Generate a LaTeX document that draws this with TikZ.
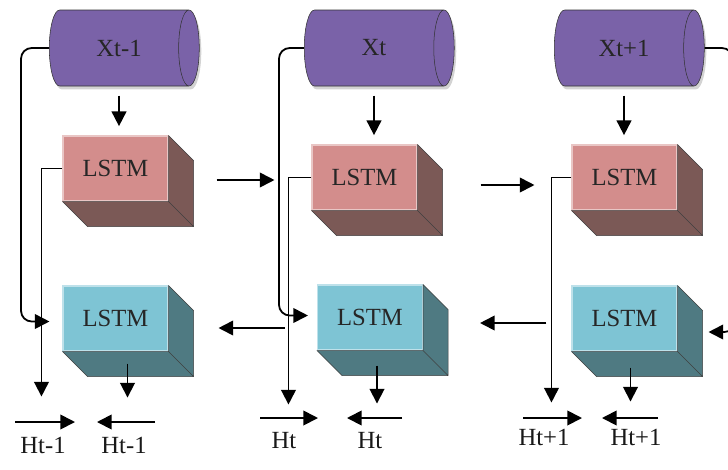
\documentclass[tikz,border=0pt]{standalone}
\usepackage{fontspec}
\setmainfont{Liberation Serif}
\usepackage{tikz}
\usetikzlibrary{arrows.meta,shapes.geometric,shadows}
\definecolor{cylfill}{HTML}{7A62A8}
\definecolor{pinkfront}{HTML}{D38D8C}
\definecolor{pinkside}{HTML}{7B5956}
\definecolor{bluefront}{HTML}{7EC4D4}
\definecolor{blueside}{HTML}{4F7A82}
\tikzset{
  arr/.style={line width=1.35pt, -{Triangle[length=11pt,width=11pt]}},
  wire/.style={line width=1.35pt},
  inp/.style={cylinder, shape border rotate=0, aspect=1.25, draw=black!80, fill=cylfill,
    minimum width=57pt, minimum height=112.5pt, inner sep=0pt,
    font=\fontsize{18.5}{20}\selectfont, text=black!85,
    drop shadow={opacity=0.35, shadow xshift=1.5pt, shadow yshift=-2.5pt}},
  cell/.style={rectangle, minimum width=78.75pt, minimum height=48.75pt, inner sep=0pt,
    font=\fontsize{18.5}{20}\selectfont, text=black!85},
  fwd/.style={cell, fill=pinkfront, draw=pinkfront!50!white, line width=0.8pt},
  bwd/.style={cell, fill=bluefront, draw=bluefront!50!white, line width=0.8pt},
  side/.style={fill=#1, draw=black!75, line width=0.4pt, line join=round},
  lab/.style={font=\fontsize{18.5}{20}\selectfont, text=black!90}
}
\begin{document}
\begin{tikzpicture}[x=0.75pt,y=-0.75pt]
\useasboundingbox (0,0) rectangle (728,469);
\clip (0,0) rectangle (728,469);

\node[inp] (x1) at (119,48) {Xt-1};
\node[inp] (x2) at (374,48) {Xt};
\node[inp] (x3) at (624,48) {Xt+1};

\node[fwd] (p1) at (115.5,168.5) {LSTM};
\node[fwd] (p2) at (364.5,177.5) {LSTM};
\node[fwd] (p3) at (624.5,177.5) {LSTM};
\node[bwd] (b1) at (115.5,318.5) {LSTM};
\node[bwd] (b2) at (370,317.5) {LSTM};
\node[bwd] (b3) at (624.5,318.5) {LSTM};

\foreach \n/\c in {p1/pinkside,p2/pinkside,p3/pinkside,b1/blueside,b2/blueside,b3/blueside}
  \filldraw[side=\c] (\n.north east) -- ++(25,25) -- ([shift={(25,25)}]\n.south east)
    -- ([shift={(25,25)}]\n.south west) -- (\n.south west) -- (\n.south east) -- cycle
    (\n.south east) -- ++(25,25);

\node[lab] (hf1) at (43,445) {Ht-1};
\node[lab] (hb1) at (124,445) {Ht-1};
\node[lab] (hf2) at (284,441) {Ht};
\node[lab] (hb2) at (370,441) {Ht};
\node[lab] (hf3) at (544,437) {Ht+1};
\node[lab] (hb3) at (636,437) {Ht+1};

\draw[arr,shorten <=7pt,shorten >=7pt] (x1.south) -- (x1.south |- p1.north);
\draw[arr,shorten <=7pt,shorten >=7pt] (x2.south) -- (x2.south |- p2.north);
\draw[arr,shorten <=7pt,shorten >=7pt] (x3.south) -- (x3.south |- p3.north);

\draw[arr,rounded corners=8pt] (x1.west) -- ++(-28,0) |- ([shift={(-13,3)}]b1.west);
\draw[arr,rounded corners=8pt] (x2.west) -- ++(-25,0) |- ([shift={(-9,-2)}]b2.west);
\draw[wire,rounded corners=8pt] (x3.east) -- ++(28,0) -- ++(0,60);

\draw[arr] (p1.west) -- ++(-21,0) -- ++(0,228);
\draw[arr] (p2.west) -- ++(-23,0) -- ++(0,227);
\draw[arr] (p3.west) -- ++(-20,0) -- ++(0,225);

\draw[arr] ([shift={(12,12)}]b1.south) -- ++(0,34);
\draw[arr] ([shift={(7,15)}]b2.south) -- ++(0,38);
\draw[arr] ([shift={(6,16)}]b3.south) -- ++(0,34);

\draw[arr] ([shift={(48,11.5)}]p1.east) -- ([shift={(-37,2.5)}]p2.west);
\draw[arr] ([shift={(63,7.5)}]p2.east) -- ([shift={(-37,7.5)}]p3.west);
\draw[arr] ([shift={(-32,10.5)}]b2.west) -- ([shift={(50,9.5)}]b1.east);
\draw[arr] ([shift={(-25,4.5)}]b3.west) -- ([shift={(57,5.5)}]b2.east);
\draw[arr,rounded corners=8pt] (735,290) |- ([shift={(31,13.5)}]b3.east);

\draw[arr] ([shift={(-28,-23)}]hf1.center) -- ++(60,0);
\draw[arr] ([shift={(31,-23)}]hb1.center) -- ++(-58,0);
\draw[arr] ([shift={(-24,-23)}]hf2.center) -- ++(58,0);
\draw[arr] ([shift={(32,-23)}]hb2.center) -- ++(-55,0);
\draw[arr] ([shift={(-21,-19)}]hf3.center) -- ++(59,0);
\draw[arr] ([shift={(22,-19)}]hb3.center) -- ++(-56,0);
\end{tikzpicture}
\end{document}
